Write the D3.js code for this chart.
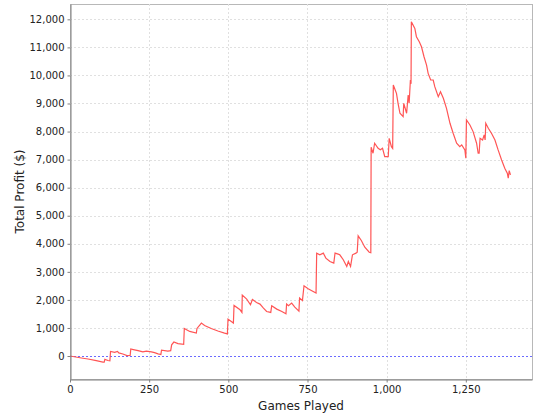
<!DOCTYPE html>
<html>
<head>
<meta charset="utf-8">
<script src="https://cdn.jsdelivr.net/npm/d3@7"></script>
<style>
  body { margin: 0; background: #fff; }
  svg { display: block; }
</style>
</head>
<body>
<svg id="chart" width="540" height="420"></svg>
<script>
// games played (x) and cumulative profit (y)
var games = [0, 36, 57, 83, 104, 108, 110, 120, 126, 128, 141, 150, 154, 167, 180, 190, 192, 200, 215, 230,
  241, 257, 267, 278, 287, 289, 309, 318, 321, 328, 341, 359, 361, 378, 399, 401, 415, 425, 446, 467,
  488, 497, 499, 516, 518, 537, 543, 544, 558, 570, 576, 589, 600, 611, 621, 634, 637, 653, 669, 682,
  684, 690, 700, 710, 723, 725, 734, 739, 752, 768, 777, 779, 789, 800, 808, 821, 833, 837, 847, 852,
  863, 874, 879, 886, 892, 903, 907, 910, 920, 931, 945, 950, 951, 957, 962, 973, 980, 987, 994, 1005,
  1008, 1015, 1019, 1021, 1031, 1036, 1042, 1052, 1054, 1063, 1068, 1071, 1075, 1077, 1078, 1089, 1094, 1103, 1110, 1118,
  1126, 1131, 1139, 1147, 1152, 1163, 1170, 1179, 1189, 1200, 1210, 1221, 1231, 1237, 1247, 1250, 1252, 1263, 1273, 1284,
  1289, 1292, 1295, 1303, 1308, 1311, 1313, 1321, 1331, 1342, 1352, 1363, 1373, 1381, 1384, 1387, 1391];
var profit = [0, -70, -107, -167, -214, -214, -120, -160, -170, 164, 128, 164, 110, 72, 15, 20, 250, 230, 190, 145,
  175, 145, 120, 75, 50, 210, 175, 190, 400, 498, 440, 415, 983, 876, 818, 983, 1175, 1090, 983, 890,
  818, 790, 1317, 1175, 1801, 1648, 1553, 2171, 2029, 1826, 2015, 1910, 1850, 1709, 1588, 1553, 1790, 1672, 1588, 1506,
  1851, 1790, 1885, 1743, 1600, 2065, 1980, 2503, 2396, 2301, 2243, 3667, 3608, 3667, 3489, 3370, 3311, 3667, 3630, 3608,
  3430, 3192, 3370, 3192, 3608, 3667, 3700, 4284, 4117, 3880, 3700, 3680, 7440, 7227, 7583, 7405, 7350, 7405, 7108, 7108,
  7760, 7463, 7400, 9660, 9363, 9007, 8651, 8532, 9007, 8651, 9303, 9007, 9837, 9700, 11912, 11677, 11380, 11200, 11022, 10666,
  10370, 10074, 9837, 9837, 9600, 9244, 9422, 9185, 8829, 8295, 7939, 7583, 7463, 7524, 7345, 7049, 8413, 8235, 7998, 7583,
  7227, 7227, 7760, 7700, 7880, 7700, 8295, 8117, 7939, 7700, 7345, 6989, 6692, 6514, 6337, 6607, 6455];

var xTicks = [0, 250, 500, 750, 1000, 1250];
var yTicks = [0, 1000, 2000, 3000, 4000, 5000, 6000, 7000, 8000, 9000, 10000, 11000, 12000];

var svg = d3.select('#chart');
var pl = 70, pr = 532, pt = 4, pb = 379;

var x = d3.scaleLinear().domain([0, 1459]).range([pl, pr]);
var y = d3.scaleLinear().domain([-819, 12546]).range([pb, pt]);
var fmt = d3.format(',');
var font = 'DejaVu Sans, sans-serif';

// plot background and outline
svg.append('rect').attr('x', pl + 0.5).attr('y', pt + 0.5).attr('width', pr - pl).attr('height', pb - pt)
  .attr('fill', '#fff').attr('stroke', '#b8b8b8').attr('stroke-width', 1);

// gridlines
svg.append('g').selectAll('line').data(xTicks.slice(1)).join('line')
  .attr('x1', function(d) { return Math.round(x(d)) + 0.5; }).attr('x2', function(d) { return Math.round(x(d)) + 0.5; })
  .attr('y1', pt).attr('y2', pb)
  .attr('stroke', '#e0e0e0').attr('stroke-dasharray', '2,2');
svg.append('g').selectAll('line').data(yTicks).join('line')
  .attr('x1', pl).attr('x2', pr)
  .attr('y1', function(d) { return Math.round(y(d)) + 0.5; }).attr('y2', function(d) { return Math.round(y(d)) + 0.5; })
  .attr('stroke', '#e0e0e0').attr('stroke-dasharray', '2,2');

// zero marker
svg.append('line').attr('x1', pl).attr('x2', pr)
  .attr('y1', Math.round(y(0)) + 0.5).attr('y2', Math.round(y(0)) + 0.5)
  .attr('stroke', '#6b6bff').attr('stroke-dasharray', '2,2');

// the profit line
var pts = games.map(function(g, i) { return [g, profit[i]]; });
var line = d3.line().x(function(d) { return x(d[0]); }).y(function(d) { return y(d[1]); });
svg.append('path').datum(pts).attr('d', line)
  .attr('fill', 'none').attr('stroke', '#ff5555').attr('stroke-width', 1.2);

// axes
var xAxis = svg.append('g').attr('transform', 'translate(0,' + (pb + 0.5) + ')')
  .call(d3.axisBottom(x).tickValues(xTicks).tickFormat(fmt).tickSizeInner(3).tickSizeOuter(0).tickPadding(3));
var yAxis = svg.append('g').attr('transform', 'translate(' + (pl + 0.5) + ',0)')
  .call(d3.axisLeft(y).tickValues(yTicks).tickFormat(fmt).tickSizeInner(3).tickSizeOuter(0).tickPadding(3));
[xAxis, yAxis].forEach(function(a) {
  a.select('.domain').attr('stroke', '#808080');
  a.selectAll('.tick line').attr('stroke', '#808080');
  a.selectAll('text').attr('font-family', font).attr('font-size', 10).attr('fill', '#222');
});

// axis titles
svg.append('text').attr('x', (pl + pr) / 2).attr('y', 410).attr('text-anchor', 'middle')
  .attr('font-family', font).attr('font-size', 12).attr('fill', '#222').text('Games Played');
svg.append('text').attr('transform', 'translate(24,' + (pt + pb) / 2 + ') rotate(-90)')
  .attr('text-anchor', 'middle').attr('font-family', font).attr('font-size', 12).attr('fill', '#222')
  .text('Total Profit ($)');
</script>
</body>
</html>
